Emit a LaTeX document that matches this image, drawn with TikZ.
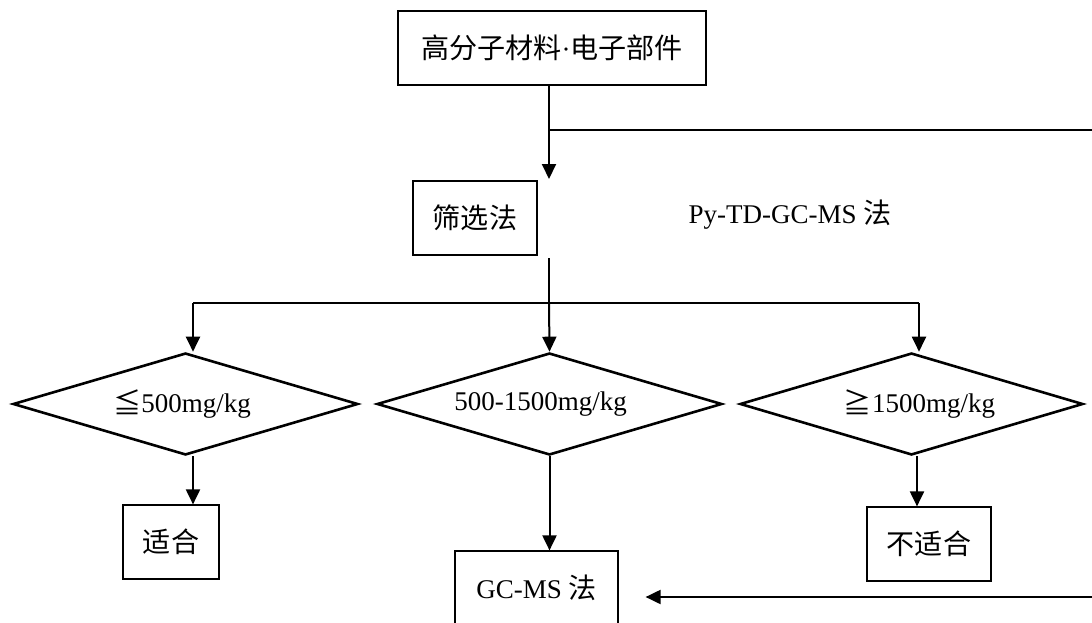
\documentclass[tikz,border=0pt]{standalone}
\usepackage{fontspec}
\setmainfont{Liberation Serif}
\newfontfamily\cjk{Noto Sans CJK SC}[Scale=1.04]
\usetikzlibrary{shapes.geometric,arrows.meta}
\begin{document}
\begin{tikzpicture}[x=1pt,y=-1pt,
  txt/.style={font=\fontsize{27}{32}\selectfont},
  box/.style={txt, draw, line width=1.2pt, minimum height=74pt, inner sep=0pt},
  dia/.style={txt, draw, diamond, line width=2.6pt, aspect=3.4, minimum width=345pt, minimum height=102pt, inner sep=0pt},
  ln/.style={line width=2pt},
  arr/.style={ln, -{Triangle[length=15pt,width=14pt]}},
  lbl/.style={txt, inner sep=0pt}]
\useasboundingbox (0,0) rectangle (1092,623);
% nodes
\node[box, minimum width=308pt] (top) at (552,48) {{\cjk 高分子材料}·{\cjk 电子部件}};
\node[box, minimum width=124pt] (scr) at (475,218) {\cjk 筛选法};
\node[lbl] (py) at (790,215) {Py-TD-GC-MS {\cjk 法}};
\node[dia] (d1) at (185.5,404) {\hspace*{-7pt}\raisebox{-1pt}{\cjk ≦}500mg/kg};
\node[dia] (d2) at (549.5,404) {\hspace*{-18pt}500-1500mg/kg};
\node[dia, minimum width=343pt] (d3) at (911.5,404) {\raisebox{-1pt}{\cjk ≧}1500mg/kg\hspace*{-16pt}};
\node[box, minimum width=96pt] (ok) at (171,542) {\cjk 适合};
\node[box, minimum width=124pt] (ng) at (929,544) {\cjk 不适合};
\node[box, minimum width=163pt] (gc) at (536.5,588) {GC-MS {\cjk 法}};
% coordinates
\coordinate (j0) at (549,130);
\coordinate (t1) at (549,179);
\coordinate (e0) at (1092,130);
\coordinate (e1) at (1092,597);
\coordinate (s1) at (549,258);
\coordinate (j1) at (549,303);
\coordinate (bl) at (193,303);
\coordinate (br) at (919,303);
% connectors
\draw[arr] (top.south -| j0) -- (t1);
\draw[ln] (j0) -- (e0);
\draw[ln] (s1) -- (j1);
\draw[ln] (bl) -- (br);
\draw[arr] (bl) -- (bl |- d1.north);
\draw[arr] (j1) -- (d2.north);
\draw[arr] (br) -- (br |- d3.north);
\draw[arr] (d1.south -| bl) -- (ok.north -| bl);
\draw[arr] (d2.south) -- (d2.south |- gc.north);
\draw[arr] ([xshift=5.5pt]d3.south) -- ([xshift=5.5pt]d3.south |- ng.north);
\draw[arr, shorten >=27pt] (e1) -- (gc.east |- e1);
\end{tikzpicture}
\end{document}
